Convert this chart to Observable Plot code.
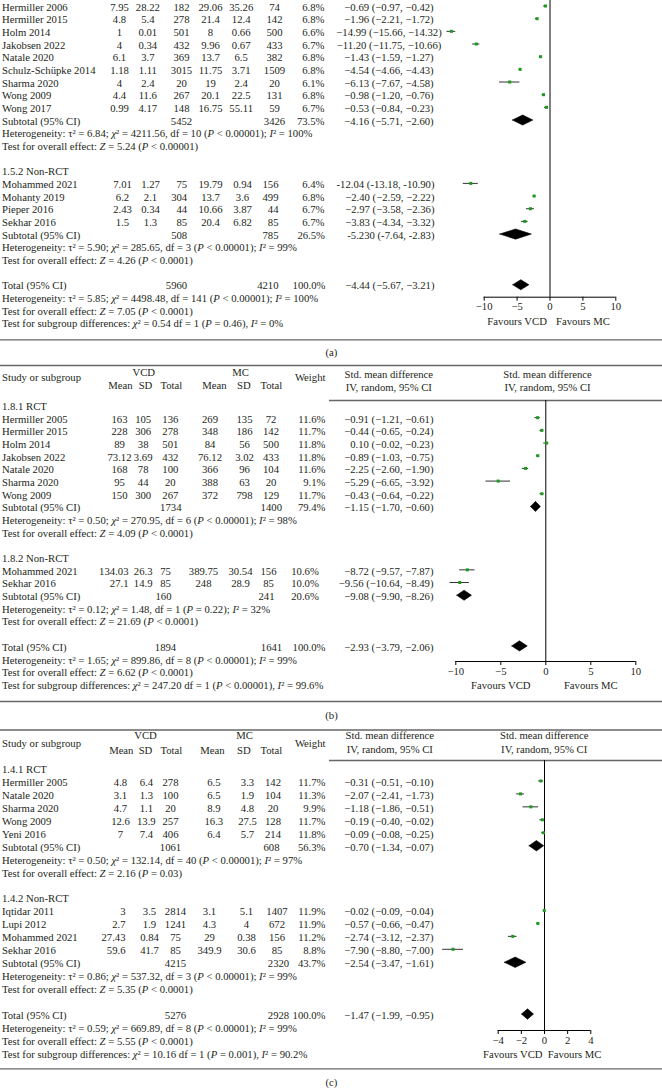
<!DOCTYPE html>
<html>
<head>
<meta charset="utf-8">
<script src="https://cdn.jsdelivr.net/npm/d3@7"></script>
<script src="https://cdn.jsdelivr.net/npm/@observablehq/plot@0.6"></script>
<style>
html, body { margin: 0; padding: 0; background: #fff; }
#chart { width: 662px; }
#chart svg { display: block; }
</style>
</head>
<body>
<div id="chart"></div>
<script>
// ====================== DATA ======================
const headerGroups = ["VCD", "MC"];
const headerCols = ["Mean", "SD", "Total", "Mean", "SD", "Total"];
const headerStudy = "Study or subgroup";
const headerWeight = "Weight";
const headerSmd = ["Std. mean difference", "IV, random, 95% CI"];
const favoursLabels = ["Favours VCD", "Favours MC"];
const panelLabels = ["(a)", "(b)", "(c)"];

// ---------- Panel (a) ----------
const aRctTable = [
  ["Hermiller 2006", "7.95", "28.22", "182", "29.06", "35.26", "74", "6.8%"],
  ["Hermiller 2015", "4.8", "5.4", "278", "21.4", "12.4", "142", "6.8%"],
  ["Holm 2014", "1", "0.01", "501", "8", "0.66", "500", "6.6%"],
  ["Jakobsen 2022", "4", "0.34", "432", "9.96", "0.67", "433", "6.7%"],
  ["Natale 2020", "6.1", "3.7", "369", "13.7", "6.5", "382", "6.8%"],
  ["Schulz-Schüpke 2014", "1.18", "1.11", "3015", "11.75", "3.71", "1509", "6.8%"],
  ["Sharma 2020", "4", "2.4", "20", "19", "2.4", "20", "6.1%"],
  ["Wong 2009", "4.4", "11.6", "267", "20.1", "22.5", "131", "6.8%"],
  ["Wong 2017", "0.99", "4.17", "148", "16.75", "55.11", "59", "6.7%"]
];
const aRctEffect = [[-0.69, -0.97, -0.42], [-1.96, -2.21, -1.72], [-14.99, -15.66, -14.32], [-11.20, -11.75, -10.66],
  [-1.43, -1.59, -1.27], [-4.54, -4.66, -4.43], [-6.13, -7.67, -4.58], [-0.98, -1.20, -0.76], [-0.53, -0.84, -0.23]];
const aRctLabels = ["−0.69 (−0.97, −0.42)", "−1.96 (−2.21, −1.72)", "−14.99 (−15.66, −14.32)", "−11.20 (−11.75, −10.66)",
  "−1.43 (−1.59, −1.27)", "−4.54 (−4.66, −4.43)", "−6.13 (−7.67, −4.58)", "−0.98 (−1.20, −0.76)", "−0.53 (−0.84, −0.23)"];
const aRctSubtotal = ["Subtotal (95% CI)", "5452", "3426", "73.5%"];
const aRctSubEffect = [-4.16, -5.71, -2.60];
const aRctSubLabel = "−4.16 (−5.71, −2.60)";
const aRctStats = ["Heterogeneity: τ² = 6.84; χ² = 4211.56, df = 10 (P < 0.00001); I² = 100%",
  "Test for overall effect: Z = 5.24 (P < 0.00001)"];

const aNonTitle = "1.5.2 Non-RCT";
const aNonTable = [
  ["Mohammed 2021", "7.01", "1.27", "75", "19.79", "0.94", "156", "6.4%"],
  ["Mohanty 2019", "6.2", "2.1", "304", "13.7", "3.6", "499", "6.8%"],
  ["Pieper 2016", "2.43", "0.34", "44", "10.66", "3.87", "44", "6.7%"],
  ["Sekhar 2016", "1.5", "1.3", "85", "20.4", "6.82", "85", "6.7%"]
];
const aNonEffect = [[-12.04, -13.18, -10.90], [-2.40, -2.59, -2.22], [-2.97, -3.58, -2.36], [-3.83, -4.34, -3.32]];
const aNonLabels = ["-12.04 (-13.18, -10.90)", "−2.40 (−2.59, −2.22)", "−2.97 (−3.58, −2.36)", "−3.83 (−4.34, −3.32)"];
const aNonSubtotal = ["Subtotal (95% CI)", "508", "785", "26.5%"];
const aNonSubEffect = [-5.23, -7.64, -2.83];
const aNonSubLabel = "-5.230 (-7.64, -2.83)";
const aNonStats = ["Heterogeneity: τ² = 5.90; χ² = 285.65, df = 3 (P < 0.00001); I² = 99%",
  "Test for overall effect: Z = 4.26 (P < 0.0001)"];

const aTotal = ["Total (95% CI)", "5960", "4210", "100.0%"];
const aTotalEffect = [-4.44, -5.67, -3.21];
const aTotalLabel = "−4.44 (−5.67, −3.21)";
const aTotalStats = ["Heterogeneity: τ² = 5.85; χ² = 4498.48, df = 141 (P < 0.00001); I² = 100%",
  "Test for overall effect: Z = 7.05 (P < 0.0001)",
  "Test for subgroup differences: χ² = 0.54 df = 1 (P = 0.46), I² = 0%"];
const aTicks = [-10, -5, 0, 5, 10];

// ---------- Panel (b) ----------
const bRctTitle = "1.8.1 RCT";
const bRctTable = [
  ["Hermiller 2005", "163", "105", "136", "269", "135", "72", "11.6%"],
  ["Hermiller 2015", "228", "306", "278", "348", "186", "142", "11.7%"],
  ["Holm 2014", "89", "38", "501", "84", "56", "500", "11.8%"],
  ["Jakobsen 2022", "73.12", "3.69", "432", "76.12", "3.02", "433", "11.8%"],
  ["Natale 2020", "168", "78", "100", "366", "96", "104", "11.6%"],
  ["Sharma 2020", "95", "44", "20", "388", "63", "20", "9.1%"],
  ["Wong 2009", "150", "300", "267", "372", "798", "129", "11.7%"]
];
const bRctEffect = [[-0.91, -1.21, -0.61], [-0.44, -0.65, -0.24], [0.10, -0.02, -0.23], [-0.89, -1.03, -0.75],
  [-2.25, -2.60, -1.90], [-5.29, -6.65, -3.92], [-0.43, -0.64, -0.22]];
const bRctLabels = ["−0.91 (−1.21, −0.61)", "−0.44 (−0.65, −0.24)", "0.10 (−0.02, −0.23)", "−0.89 (−1.03, −0.75)",
  "−2.25 (−2.60, −1.90)", "−5.29 (−6.65, −3.92)", "−0.43 (−0.64, −0.22)"];
const bRctSubtotal = ["Subtotal (95% CI)", "1734", "1400", "79.4%"];
const bRctSubEffect = [-1.15, -1.70, -0.60];
const bRctSubLabel = "−1.15 (−1.70, −0.60)";
const bRctStats = ["Heterogeneity: τ² = 0.50; χ² = 270.95, df = 6 (P < 0.00001); I² = 98%",
  "Test for overall effect: Z = 4.09 (P < 0.0001)"];

const bNonTitle = "1.8.2 Non-RCT";
const bNonTable = [
  ["Mohammed 2021", "134.03", "26.3", "75", "389.75", "30.54", "156", "10.6%"],
  ["Sekhar 2016", "27.1", "14.9", "85", "248", "28.9", "85", "10.0%"]
];
const bNonEffect = [[-8.72, -9.57, -7.87], [-9.56, -10.64, -8.49]];
const bNonLabels = ["−8.72 (−9.57, −7.87)", "−9.56 (−10.64, −8.49)"];
const bNonSubtotal = ["Subtotal (95% CI)", "160", "241", "20.6%"];
const bNonSubEffect = [-9.08, -9.90, -8.26];
const bNonSubLabel = "−9.08 (−9.90, −8.26)";
const bNonStats = ["Heterogeneity: τ² = 0.12; χ² = 1.48, df = 1 (P = 0.22); I² = 32%",
  "Test for overall effect: Z = 21.69 (P < 0.0001)"];

const bTotal = ["Total (95% CI)", "1894", "1641", "100.0%"];
const bTotalEffect = [-2.93, -3.79, -2.06];
const bTotalLabel = "−2.93 (−3.79, −2.06)";
const bTotalStats = ["Heterogeneity: τ² = 1.65; χ² = 899.86, df = 8 (P < 0.00001); I² = 99%",
  "Test for overall effect: Z = 6.62 (P < 0.0001)",
  "Test for subgroup differences: χ² = 247.20 df = 1 (P < 0.00001), I² = 99.6%"];
const bTicks = [-10, -5, 0, 5, 10];

// ---------- Panel (c) ----------
const cRctTitle = "1.4.1 RCT";
const cRctTable = [
  ["Hermiller 2005", "4.8", "6.4", "278", "6.5", "3.3", "142", "11.7%"],
  ["Natale 2020", "3.1", "1.3", "100", "6.5", "1.9", "104", "11.3%"],
  ["Sharma 2020", "4.7", "1.1", "20", "8.9", "4.8", "20", "9.9%"],
  ["Wong 2009", "12.6", "13.9", "257", "16.3", "27.5", "128", "11.7%"],
  ["Yeni 2016", "7", "7.4", "406", "6.4", "5.7", "214", "11.8%"]
];
const cRctEffect = [[-0.31, -0.51, -0.10], [-2.07, -2.41, -1.73], [-1.18, -1.86, -0.51], [-0.19, -0.40, -0.02], [-0.09, -0.08, -0.25]];
const cRctLabels = ["−0.31 (−0.51, −0.10)", "−2.07 (−2.41, −1.73)", "−1.18 (−1.86, −0.51)", "−0.19 (−0.40, −0.02)", "−0.09 (−0.08, −0.25)"];
const cRctSubtotal = ["Subtotal (95% CI)", "1061", "608", "56.3%"];
const cRctSubEffect = [-0.70, -1.34, -0.07];
const cRctSubLabel = "−0.70 (−1.34, −0.07)";
const cRctStats = ["Heterogeneity: τ² = 0.50; χ² = 132.14, df = 40 (P < 0.00001); I² = 97%",
  "Test for overall effect: Z = 2.16 (P = 0.03)"];

const cNonTitle = "1.4.2 Non-RCT";
const cNonTable = [
  ["Iqtidar 2011", "3", "3.5", "2814", "3.1", "5.1", "1407", "11.9%"],
  ["Lupi 2012", "2.7", "1.9", "1241", "4.3", "4", "672", "11.9%"],
  ["Mohammed 2021", "27.43", "0.84", "75", "29", "0.38", "156", "11.2%"],
  ["Sekhar 2016", "59.6", "41.7", "85", "349.9", "30.6", "85", "8.8%"]
];
const cNonEffect = [[-0.02, -0.09, -0.04], [-0.57, -0.66, -0.47], [-2.74, -3.12, -2.37], [-7.90, -8.80, -7.00]];
const cNonLabels = ["−0.02 (−0.09, −0.04)", "−0.57 (−0.66, −0.47)", "−2.74 (−3.12, −2.37)", "−7.90 (−8.80, −7.00)"];
const cNonSubtotal = ["Subtotal (95% CI)", "4215", "2320", "43.7%"];
const cNonSubEffect = [-2.54, -3.47, -1.61];
const cNonSubLabel = "−2.54 (−3.47, −1.61)";
const cNonStats = ["Heterogeneity: τ² = 0.86; χ² = 537.32, df = 3 (P < 0.00001); I² = 99%",
  "Test for overall effect: Z = 5.35 (P < 0.0001)"];

const cTotal = ["Total (95% CI)", "5276", "2928", "100.0%"];
const cTotalEffect = [-1.47, -1.99, -0.95];
const cTotalLabel = "−1.47 (−1.99, −0.95)";
const cTotalStats = ["Heterogeneity: τ² = 0.59; χ² = 669.89, df = 8 (P < 0.00001); I² = 99%",
  "Test for overall effect: Z = 5.55 (P < 0.0001)",
  "Test for subgroup differences: χ² = 10.16 df = 1 (P = 0.001), I² = 90.2%"];
const cTicks = [-4, -2, 0, 2, 4];

// ====================== LAYOUT / STYLE ======================
const FONT = "'Liberation Serif', 'Times New Roman', serif";
const FS = 10.7;
const INK = "#231f20";
const GREEN = "#1d9a1d";
const RULE = "#666";
const NAME_X = 1.5;
const M = "middle", E = "end", S = "start";

const panels = [
  {
    top: 0, H: 360, y0: 5.5, s: 12.67, textShift: 1.2,
    xDomain: [-10, 10], xRange: [483.7, 615.3], ticks: aTicks,
    axisY: 296.7, zeroTop: -2, favY: 321, fav: [[-5, M], [5, M]],
    fullRules: [339.3], partialRules: [], header: null,
    label: panelLabels[0], labelY: 352,
    sections: [
      { title: null, table: aRctTable, effect: aRctEffect, labels: aRctLabels,
        cols: [[119, M], [147.3, M], [181, M], [210, M], [240.7, M], [274, M], [324, E]],
        ci: [388.5, M], subtotal: aRctSubtotal, subCols: [[181, M], [274, M], [324, E]],
        subEffect: aRctSubEffect, subLabel: aRctSubLabel, stats: aRctStats },
      { title: aNonTitle, table: aNonTable, effect: aNonEffect, labels: aNonLabels,
        cols: [[122, M], [150, M], [186.7, E], [210, M], [242, M], [278, E], [324, E]],
        ci: [434, E], subtotal: aNonSubtotal, subCols: [[186.7, E], [278, E], [324.5, E]],
        subEffect: aNonSubEffect, subLabel: aNonSubLabel, stats: aNonStats }
    ],
    total: { cells: aTotal, cols: [[186.7, E], [278, E], [325, E]], ci: [434, E],
      effect: aTotalEffect, label: aTotalLabel, stats: aTotalStats }
  },
  {
    top: 360, H: 365, y0: 404.5, s: 12.68, textShift: 1.5,
    xDomain: [-10, 10], xRange: [455.3, 635.3], ticks: bTicks,
    axisY: 661, zeroTop: 400, favY: 685.3, fav: [[-5, M], [5, M]],
    fullRules: [365, 701], partialRules: [400],
    header: { groupY: 372, studyY: 376.7, colY: 385, smdY: [374, 387.3],
      groupX: [143.3, 240], colX: [120, 145, 170.8, 214, 243.3, 270.8], smdX: [388.3, 547] },
    label: panelLabels[1], labelY: 715,
    sections: [
      { title: bRctTitle, table: bRctTable, effect: bRctEffect, labels: bRctLabels,
        cols: [[119, M], [142.7, M], [169.8, M], [209.5, M], [244, M], [270.5, M], [325, E]],
        ci: [433, E], subtotal: bRctSubtotal, subCols: [[170.3, M], [270.8, M], [325, E]],
        subEffect: bRctSubEffect, subLabel: bRctSubLabel, stats: bRctStats },
      { title: bNonTitle, table: bNonTable, effect: bNonEffect, labels: bNonLabels,
        cols: [[128, E], [142.7, M], [165, M], [203, M], [240, M], [268, M], [318.3, E]],
        ci: [433, E], subtotal: bNonSubtotal, subCols: [[163, M], [266, M], [318.3, E]],
        subEffect: bNonSubEffect, subLabel: bNonSubLabel, stats: bNonStats }
    ],
    total: { cells: bTotal, cols: [[165, M], [271, M], [325, E]], ci: [433, E],
      effect: bTotalEffect, label: bTotalLabel, stats: bTotalStats }
  },
  {
    top: 725, H: 363, y0: 767.5, s: 12.95, textShift: 1.5,
    xDomain: [-4, 4], xRange: [497.7, 590.3], ticks: cTicks,
    axisY: 1030, zeroTop: 760, favY: 1054, fav: [[-2.74, M], [2.6, M]],
    fullRules: [729.5, 1068.3], partialRules: [760],
    header: { groupY: 735, studyY: 742.7, colY: 750, smdY: [735, 749.3],
      groupX: [145, 244], colX: [120.8, 145, 170.8, 212, 243.3, 270.8], smdX: [389.3, 543.7] },
    label: panelLabels[2], labelY: 1081.7,
    sections: [
      { title: cRctTitle, table: cRctTable, effect: cRctEffect, labels: cRctLabels,
        cols: [[120, M], [145.8, M], [170, M], [213.3, M], [247, M], [272.5, M], [325, E]],
        ci: [433, E], subtotal: cRctSubtotal, subCols: [[170, M], [271, M], [325, E]],
        subEffect: cRctSubEffect, subLabel: cRctSubLabel, stats: cRctStats },
      { title: cNonTitle, table: cNonTable, effect: cNonEffect, labels: cNonLabels,
        cols: [[125, E], [149, M], [175, M], [209, M], [246, M], [276.5, M], [325, E]],
        ci: [433, E], subtotal: cNonSubtotal, subCols: [[175, M], [278, M], [325, E]],
        subEffect: cNonSubEffect, subLabel: cNonSubLabel, stats: cNonStats }
    ],
    total: { cells: cTotal, cols: [[175, M], [278, M], [325, E]], ci: [433, E],
      effect: cTotalEffect, label: cTotalLabel, stats: cTotalStats }
  }
];

// ====================== BUILD ======================
function buildPanel(p) {
  const X = px => p.xDomain[0] + (px - p.xRange[0]) / (p.xRange[1] - p.xRange[0]) * (p.xDomain[1] - p.xDomain[0]);
  const Y = g => (g - p.y0) / p.s;
  const tShift = p.textShift / p.s;
  const texts = [];
  const trials = [];
  const summaries = [];
  const add = (row, px, anchor, text) => texts.push({ row, x: X(px), anchor, text });
  const addRow = (row, px, anchor, text) => add(row + tShift, px, anchor, text);

  let r = 0;
  for (const sec of p.sections) {
    if (sec.title) { addRow(r, NAME_X, S, sec.title); r++; }
    sec.table.forEach((cells, i) => {
      addRow(r, NAME_X, S, cells[0]);
      sec.cols.forEach(([px, a], j) => addRow(r, px, a, cells[j + 1]));
      addRow(r, sec.ci[0], sec.ci[1], sec.labels[i]);
      const [est, lo, hi] = sec.effect[i];
      trials.push({ row: r, est, lo, hi });
      r++;
    });
    addRow(r, NAME_X, S, sec.subtotal[0]);
    sec.subCols.forEach(([px, a], j) => addRow(r, px, a, sec.subtotal[j + 1]));
    addRow(r, sec.ci[0], sec.ci[1], sec.subLabel);
    summaries.push({ row: r, est: sec.subEffect[0], lo: sec.subEffect[1], hi: sec.subEffect[2] });
    r++;
    sec.stats.forEach(st => { addRow(r, NAME_X, S, st); r++; });
    r++;
  }
  const t = p.total;
  addRow(r, NAME_X, S, t.cells[0]);
  t.cols.forEach(([px, a], j) => addRow(r, px, a, t.cells[j + 1]));
  addRow(r, t.ci[0], t.ci[1], t.label);
  summaries.push({ row: r, est: t.effect[0], lo: t.effect[1], hi: t.effect[2] });
  r++;
  t.stats.forEach(st => { addRow(r, NAME_X, S, st); r++; });

  if (p.header) {
    const h = p.header;
    add(Y(h.studyY), NAME_X, S, headerStudy);
    add(Y(h.studyY), 325, E, headerWeight);
    headerGroups.forEach((g, i) => add(Y(h.groupY), h.groupX[i], M, g));
    headerCols.forEach((c, i) => add(Y(h.colY), h.colX[i], M, c));
    h.smdX.forEach(x => headerSmd.forEach((s, k) => add(Y(h.smdY[k]), x, M, s)));
  }
  add(Y(p.labelY), 331, M, p.label);

  const hh = 0.4;
  const diamond = summaries.flatMap((d, i) => [
    { id: i, x: d.lo, y: d.row }, { id: i, x: d.est, y: d.row - hh },
    { id: i, x: d.hi, y: d.row }, { id: i, x: d.est, y: d.row + hh }, { id: i, x: d.lo, y: d.row }
  ]);

  const fav = favoursLabels.map((f, i) => ({ x: p.fav[i][0], row: Y(p.favY), text: f }));

  const anchors = [S, M, E];
  const chart = Plot.plot({
    width: 662,
    height: p.H,
    marginTop: 0, marginLeft: 0, marginRight: 0,
    marginBottom: p.H - (p.axisY - p.top),
    style: { fontFamily: FONT, fontSize: FS + "px", color: INK, background: "#fff", overflow: "visible" },
    x: { domain: p.xDomain, range: p.xRange },
    y: { domain: [0, 1], range: [p.y0 - p.top, p.y0 - p.top + p.s], axis: null },
    marks: [
      Plot.ruleY(p.fullRules.map(Y), { y: d => d, stroke: RULE, strokeWidth: 1.3 }),
      Plot.ruleY(p.partialRules.map(Y), { y: d => d, x1: X(329), x2: X(662), stroke: RULE, strokeWidth: 1.3 }),
      Plot.ruleX([0], { y1: Y(p.zeroTop), y2: Y(p.axisY), stroke: "#000", strokeWidth: 1 }),
      Plot.ruleY([Y(p.axisY)], { y: d => d, x1: p.xDomain[0], x2: p.xDomain[1], stroke: "#000", strokeWidth: 1 }),
      Plot.axisX({ ticks: p.ticks, tickSize: 4, tickPadding: 1.5, stroke: "#000", label: null, fontSize: FS }),
      Plot.ruleY(trials, { y: "row", x1: "lo", x2: "hi", stroke: "#333", strokeWidth: 1 }),
      Plot.dot(trials, { x: "est", y: "row", symbol: "square", r: 1.7, fill: GREEN, stroke: "none" }),
      Plot.line(diamond, { x: "x", y: "y", z: "id", fill: "#000", stroke: "#000", strokeWidth: 0.6 }),
      ...anchors.map(a => Plot.text(texts.filter(d => d.anchor === a),
        { x: "x", y: "row", text: "text", textAnchor: a, fill: INK, lineAnchor: "middle" })),
      Plot.text(fav, { x: "x", y: "row", text: "text", textAnchor: "middle", fill: INK })
    ]
  });

  chart.querySelectorAll("text").forEach(el => {
    const s = el.textContent;
    if (!/^(Heterogeneity|Test for)/.test(s) || el.querySelector("tspan")) return;
    el.textContent = "";
    s.split(/(\bP\b|\bZ\b|I(?=²)|χ)/).forEach(part => {
      if (!part) return;
      const ts = document.createElementNS("http://www.w3.org/2000/svg", "tspan");
      ts.textContent = part;
      if (part === "P" || part === "Z" || part === "I" || part === "χ") ts.setAttribute("font-style", "italic");
      el.appendChild(ts);
    });
  });
  return chart;
}

const root = document.getElementById("chart");
panels.forEach(p => root.appendChild(buildPanel(p)));
</script>
</body>
</html>
